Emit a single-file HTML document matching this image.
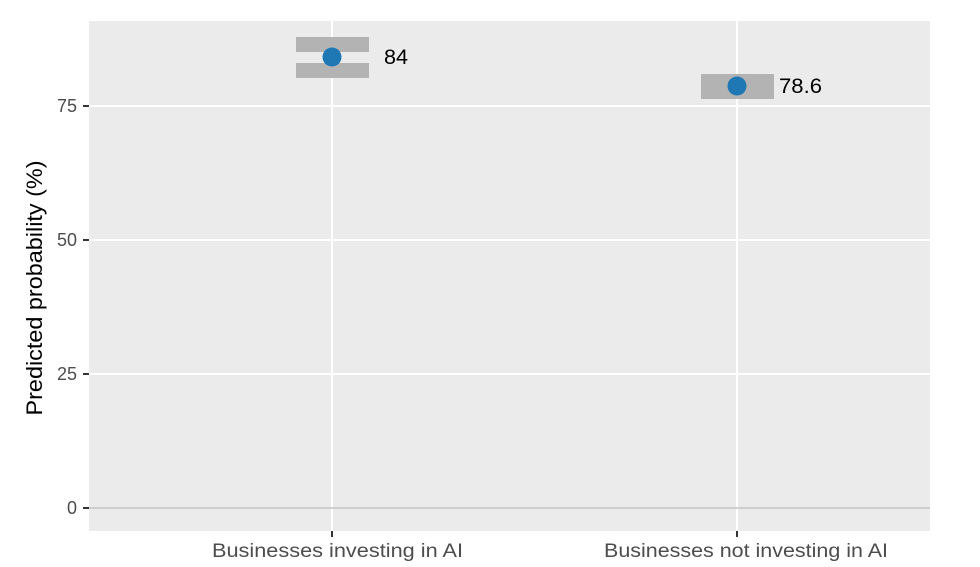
<!DOCTYPE html><html><head><style>body{margin:0;background:#fff}</style></head><body>
<svg width="980" height="562" xmlns="http://www.w3.org/2000/svg" font-family="Liberation Sans, sans-serif">
<rect x="89" y="21" width="841" height="510" fill="#ebebeb"/>
<g stroke="#fff" stroke-width="2">
<line x1="89" x2="930" y1="106" y2="106"/><line x1="89" x2="930" y1="240" y2="240"/><line x1="89" x2="930" y1="374" y2="374"/>
<line x1="332" x2="332" y1="21" y2="531"/><line x1="737" x2="737" y1="21" y2="531"/>
</g>
<line x1="89" x2="930" y1="508" y2="508" stroke="#cfcfcf" stroke-width="2"/>
<g stroke="#333" stroke-width="2">
<line x1="83" x2="89" y1="106" y2="106"/><line x1="83" x2="89" y1="240" y2="240"/><line x1="83" x2="89" y1="374" y2="374"/><line x1="83" x2="89" y1="508" y2="508"/>
<line x1="332" x2="332" y1="531" y2="537"/><line x1="737" x2="737" y1="531" y2="537"/>
</g>
<rect x="296" y="37" width="73" height="15" fill="#b3b3b3"/>
<rect x="296" y="63" width="73" height="15" fill="#b3b3b3"/>
<rect x="701" y="74" width="73" height="25" fill="#b3b3b3"/>
<circle cx="332" cy="57" r="9.5" fill="#1f78b4"/>
<circle cx="737" cy="86" r="9.5" fill="#1f78b4"/>
<text x="384" y="64" font-size="21" fill="#000" textLength="24" lengthAdjust="spacingAndGlyphs">84</text>
<text x="779" y="93" font-size="21" fill="#000" textLength="43" lengthAdjust="spacingAndGlyphs">78.6</text>
<g font-size="18" fill="#4d4d4d" text-anchor="end">
<text x="77" y="112">75</text><text x="77" y="246">50</text><text x="77" y="380">25</text><text x="77" y="514">0</text>
</g>
<g font-size="19" fill="#4d4d4d">
<text x="212" y="557" textLength="251" lengthAdjust="spacingAndGlyphs">Businesses investing in AI</text><text x="604" y="557" textLength="284" lengthAdjust="spacingAndGlyphs">Businesses not investing in AI</text>
</g>
<text transform="translate(42,288) rotate(-90)" font-size="22" text-anchor="middle" fill="#000" textLength="255" lengthAdjust="spacingAndGlyphs">Predicted probability (%)</text>
</svg></body></html>
